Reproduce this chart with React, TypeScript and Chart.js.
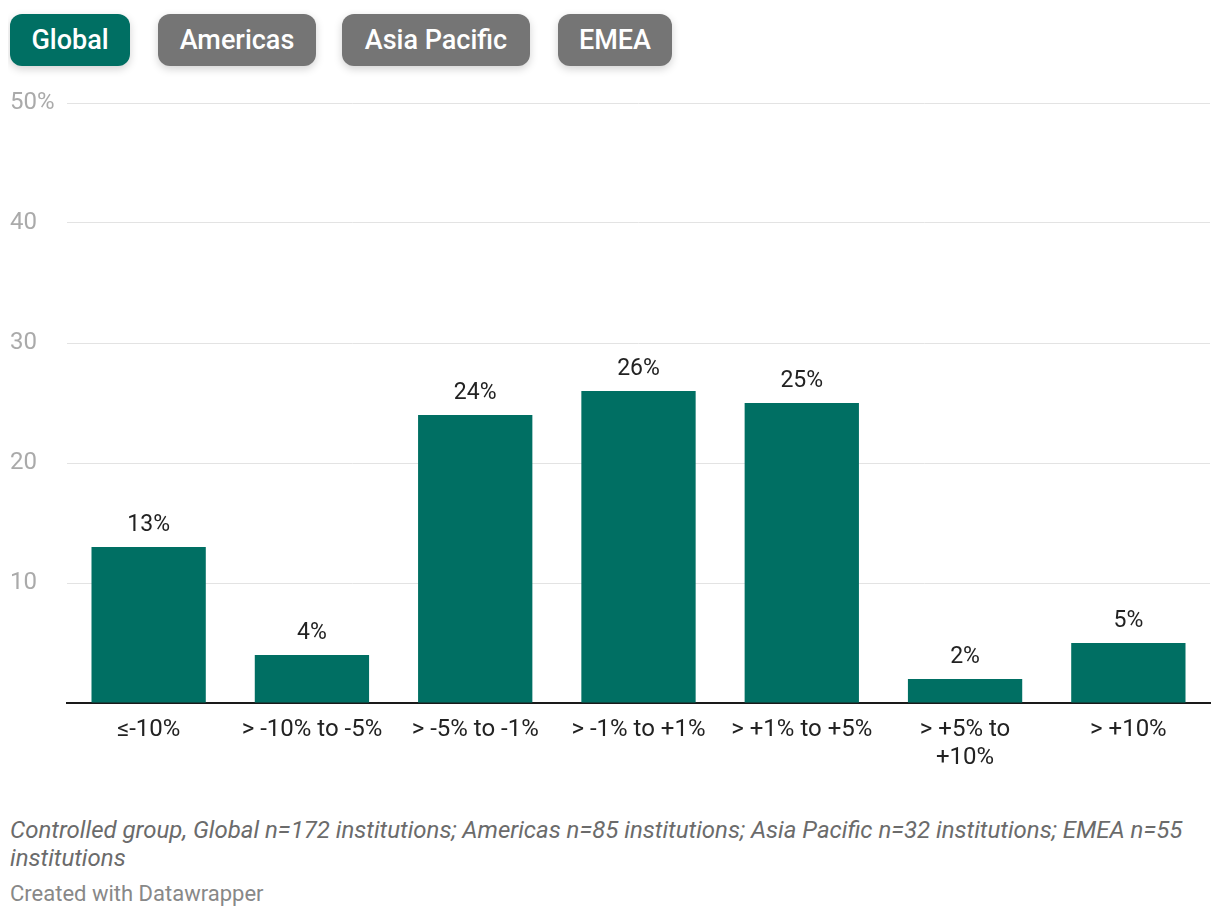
import { useRef, useEffect } from 'react';
import { Chart, registerables } from 'chart.js';

Chart.register(...registerables);

const categories: (string | string[])[] = [
  '≤-10%',
  '> -10% to -5%',
  '> -5% to -1%',
  '> -1% to +1%',
  '> +1% to +5%',
  ['> +5% to', '+10%'],
  '> +10%',
];
const globalValues = [13, 4, 24, 26, 25, 2, 5];
const yTicks = [0, 10, 20, 30, 40, 50];
const regions = ['Global', 'Americas', 'Asia Pacific', 'EMEA'];

const FONT = 'Roboto, "Noto Sans", sans-serif';
const TEAL = '#006f63';

const barLabels = {
  id: 'barLabels',
  afterDatasetsDraw(chart: Chart) {
    const ctx = chart.ctx;
    const meta = chart.getDatasetMeta(0);
    ctx.save();
    ctx.font = `23px ${FONT}`;
    ctx.fillStyle = '#222';
    ctx.textAlign = 'center';
    ctx.textBaseline = 'bottom';
    meta.data.forEach((bar: any, i: number) => {
      ctx.fillText(globalValues[i] + '%', bar.x, bar.y - 10);
    });
    ctx.restore();
  },
};

const BarChart = () => {
  const chartRef = useRef<HTMLCanvasElement | null>(null);

  useEffect(() => {
    const chart = new Chart(chartRef.current!, {
      type: 'bar',
      data: {
        labels: categories,
        datasets: [
          {
            label: 'Global',
            data: globalValues,
            backgroundColor: TEAL,
            categoryPercentage: 1,
            barPercentage: 0.7,
          },
        ],
      },
      options: {
        animation: false,
        responsive: false,
        layout: { padding: { left: 10, right: 10, top: 18, bottom: 0 } },
        plugins: { legend: { display: false }, tooltip: { enabled: false } },
        scales: {
          x: {
            grid: { display: false, drawTicks: false },
            border: { display: true, color: '#1a1a1a', width: 2 },
            ticks: {
              color: '#222',
              font: { family: FONT, size: 24, lineHeight: 28 / 24 },
              padding: 13,
              maxRotation: 0,
              autoSkip: false,
            },
            afterFit: (scale: any) => {
              scale.height = 82;
            },
          },
          y: {
            min: 0,
            max: 50,
            afterBuildTicks: (scale: any) => {
              scale.ticks = yTicks.map((v) => ({ value: v }));
            },
            grid: {
              color: (c: any) => (c.tick && c.tick.value === 0 ? 'rgba(0,0,0,0)' : '#e3e3e3'),
              lineWidth: 1,
              drawTicks: false,
            },
            border: { display: false },
            ticks: {
              color: '#aaaaaa',
              font: { family: FONT, size: 24 },
              crossAlign: 'far',
              padding: 0,
              callback: (v: any) => (v === 0 ? '' : v === 50 ? '50%' : String(v)),
            },
            afterFit: (scale: any) => {
              scale.width = 57;
            },
          },
        },
      },
      plugins: [barLabels],
    });
    return () => {
      chart.destroy();
    };
  }, []);

  return <canvas ref={chartRef} width={1220} height={700} style={{ position: 'absolute', left: 0, top: 85 }} />;
};

const buttonLeft = [10, 158, 342, 558];
const buttonWidth = [120, 158, 188, 114];

const App = () => {
  return (
    <div style={{ position: 'relative', width: 1220, height: 918, margin: -8, fontFamily: FONT, background: '#fff' }}>
      {regions.map((r, i) => (
        <div
          key={r}
          style={{
            position: 'absolute',
            left: buttonLeft[i],
            top: 14,
            width: buttonWidth[i],
            height: 52,
            lineHeight: '52px',
            textAlign: 'center',
            borderRadius: 12,
            background: i === 0 ? TEAL : '#757575',
            color: '#fff',
            fontSize: 27,
            fontWeight: 500,
            boxShadow: '0 3px 8px rgba(0,0,0,0.18)',
          }}
        >
          {r}
        </div>
      ))}
      <BarChart />
      <div
        style={{
          position: 'absolute',
          left: 10,
          top: 816,
          width: 1200,
          fontSize: 24,
          lineHeight: '28px',
          fontStyle: 'italic',
          color: '#6b6b6b',
        }}
      >
        Controlled group, Global n=172 institutions; Americas n=85 institutions; Asia Pacific n=32 institutions; EMEA n=55 institutions
      </div>
      <div style={{ position: 'absolute', left: 10, top: 880, fontSize: 22, lineHeight: '28px', color: '#888' }}>
        Created with Datawrapper
      </div>
    </div>
  );
};

export default App;
